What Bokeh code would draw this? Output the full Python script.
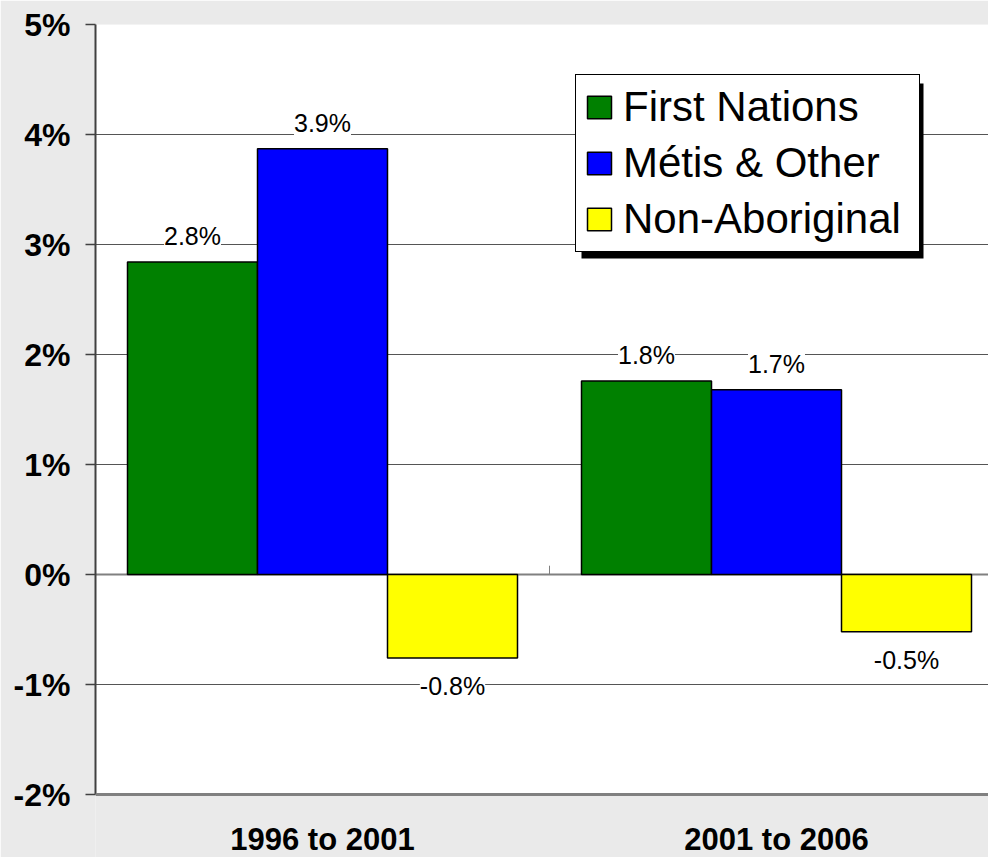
from bokeh.plotting import figure
from bokeh.models import (ColumnDataSource, LabelSet, Legend, LegendItem, FixedTicker,
                          PrintfTickFormatter, Span, BoxAnnotation, Range1d)
from bokeh.core.properties import value
from bokeh.embed import file_html
from bokeh.resources import INLINE

# ---- data ----
periods = ["1996 to 2001", "2001 to 2006"]
series_names = ["First Nations", "Métis & Other", "Non-Aboriginal"]
first_nations = [2.84, 1.76]
metis_other = [3.87, 1.68]
non_aboriginal = [-0.76, -0.52]
y_ticks = [-2, -1, 0, 1, 2, 3, 4, 5]

series_values = [first_nations, metis_other, non_aboriginal]
colors = ["#008000", "#0000FF", "#FFFF00"]

# ---- layout constants (pixels) ----
FONT = "Liberation Sans"
W, H = 988, 857
PX_PER_CAT = 454.0
PX_PER_PCT = 110.0
FRAME_LEFT = 95.0   # x of frame left
FRAME_TOP = 24.0    # y of top tick
ZERO_Y = 574.0      # y of 0%
BAR_W = 130.0 / PX_PER_CAT

def dx(px):
    return (px - FRAME_LEFT) / PX_PER_CAT

def dy(py):
    return (ZERO_Y - py) / PX_PER_PCT

p = figure(width=W, height=H,
           x_range=Range1d(0, dx(W)),
           y_range=Range1d(dy(H), y_ticks[-1]),
           output_backend="svg", toolbar_location=None,
           min_border_left=int(FRAME_LEFT), min_border_right=0,
           min_border_top=int(FRAME_TOP), min_border_bottom=0)
p.border_fill_color = "#EAEAEA"
p.background_fill_color = "#EAEAEA"
p.outline_line_color = None

# white plot area (drawn below the grid)
p.add_layout(BoxAnnotation(bottom=y_ticks[0], top=y_ticks[-1], fill_color="white", fill_alpha=1,
                           line_color=None, level="image"))

# y axis
p.yaxis.ticker = FixedTicker(ticks=y_ticks)
p.yaxis.bounds = (y_ticks[0], y_ticks[-1])
p.yaxis.formatter = PrintfTickFormatter(format="%d%%")
p.yaxis.major_label_text_font = FONT
p.yaxis.major_label_text_font_style = "bold"
p.yaxis.major_label_text_font_size = "32px"
p.yaxis.major_label_text_color = "black"
p.yaxis.axis_line_color = "#404040"
p.yaxis.axis_line_width = 2
p.yaxis.major_tick_line_color = "#404040"
p.yaxis.major_tick_line_width = 1.5
p.yaxis.major_tick_out = 10
p.yaxis.major_tick_in = 0
p.yaxis.minor_tick_line_color = None
p.yaxis.major_label_standoff = 15
p.xaxis.visible = False

p.xgrid.visible = False
p.ygrid.ticker = FixedTicker(ticks=y_ticks[1:])
p.ygrid.grid_line_color = "#555555"
p.ygrid.grid_line_width = 1

# zero line and bottom border
p.add_layout(Span(location=0, dimension="width", line_color="#808080", line_width=2, level="underlay"))
p.add_layout(Span(location=y_ticks[0], dimension="width", line_color="#808080", line_width=3))
# category boundary tick
n_cat = len(periods)
for b in range(1, n_cat):
    p.segment(x0=[b], x1=[b], y0=[0], y1=[0.08], line_color="#808080", line_width=1)

# bars
centers = [i + 0.5 for i in range(n_cat)]
renderers = []
for k, (vals, col) in enumerate(zip(series_values, colors)):
    xs = [c + (k - 1) * BAR_W for c in centers]
    src = ColumnDataSource(dict(x=xs, top=vals))
    r = p.vbar(x="x", top="top", bottom=0, width=BAR_W, source=src,
               fill_color=col, line_color="black", line_width=1.5)
    renderers.append(r)

# data labels
pos = dict(x=[], y=[], t=[])
neg = dict(x=[], y=[], t=[])
for k, vals in enumerate(series_values):
    for i, v in enumerate(vals):
        d = pos if v >= 0 else neg
        d["x"].append(centers[i] + (k - 1) * BAR_W)
        d["y"].append(v)
        d["t"].append(f"{v:.1f}%")
for d, base, off in [(pos, "bottom", 12), (neg, "top", -14)]:
    ls = LabelSet(x="x", y="y", text="t", source=ColumnDataSource(d),
                  text_align="center", text_baseline=base, y_offset=off,
                  text_font=value(FONT), text_font_size=value("25px"), text_color="black",
                  background_fill_color="white")
    p.add_layout(ls)

# category labels
cat = LabelSet(x="x", y="y", text="t",
               source=ColumnDataSource(dict(x=centers, y=[y_ticks[0]] * n_cat, t=periods)),
               text_align="center", text_baseline="top", y_offset=-27,
               text_font=value(FONT), text_font_size=value("31px"),
               text_font_style="bold", text_color="black")
p.add_layout(cat)

# legend shadow
p.add_layout(BoxAnnotation(left=dx(581), right=dx(923), top=dy(83), bottom=dy(258),
                           fill_color="black", fill_alpha=1, line_color=None))

legend = Legend(items=[LegendItem(label=n, renderers=[r]) for n, r in zip(series_names, renderers)],
                location=(575 - FRAME_LEFT, H - 252), label_text_font=FONT, label_text_font_size="42px",
                label_text_color="black", label_width=288,
                glyph_width=30, glyph_height=28, padding=8, spacing=8, label_standoff=9,
                border_line_color="black", border_line_width=1, border_line_alpha=1,
                background_fill_color="white", background_fill_alpha=1, margin=0)
p.add_layout(legend)

open("out.html", "w").write(file_html(p, INLINE))
